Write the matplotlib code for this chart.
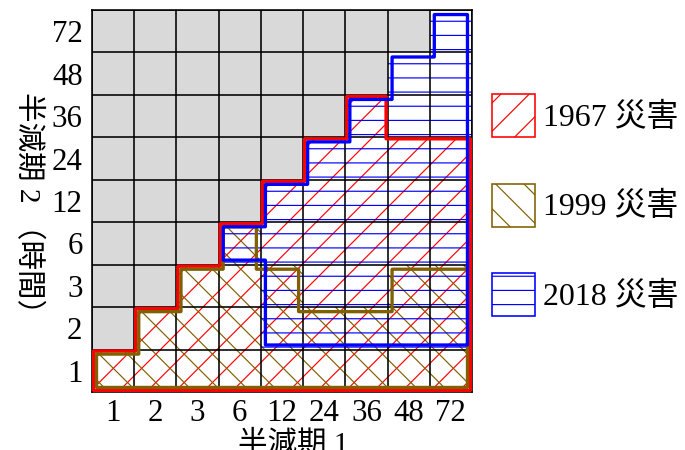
import numpy as np
import matplotlib
matplotlib.use('Agg')
import matplotlib.pyplot as plt
from matplotlib.patches import Rectangle, Patch
from numpy.lib.stride_tricks import sliding_window_view

plt.rcParams['font.family'] = ['Liberation Serif', 'Noto Sans CJK JP']
plt.rcParams['hatch.linewidth'] = 1.0

DPI = 85

# tick labels (hours)
half_life_1 = ['1', '2', '3', '6', '12', '24', '36', '48', '72']
half_life_2 = ['1', '2', '3', '6', '12', '24', '36', '48', '72']

# for each row of half_life_2 (bottom first): columns of half_life_1 in the area
area_1967 = [
    [0, 1, 2, 3, 4, 5, 6, 7, 8],
    [1, 2, 3, 4, 5, 6, 7, 8],
    [2, 3, 4, 5, 6, 7, 8],
    [3, 4, 5, 6, 7, 8],
    [4, 5, 6, 7, 8],
    [5, 6, 7, 8],
    [6],
    [],
    [],
]
area_1999 = [
    [0, 1, 2, 3, 4, 5, 6, 7, 8],
    [1, 2, 3, 4, 5, 6, 7, 8],
    [2, 3, 4, 7, 8],
    [3],
    [],
    [],
    [],
    [],
    [],
]
area_2018 = [
    [],
    [4, 5, 6, 7, 8],
    [4, 5, 6, 7, 8],
    [3, 4, 5, 6, 7, 8],
    [4, 5, 6, 7, 8],
    [5, 6, 7, 8],
    [6, 7, 8],
    [7, 8],
    [8],
]

labels = ['1967 災害', '1999 災害', '2018 災害']
areas = [area_1967, area_1999, area_2018]
colors = ['#ff0000', '#806000', '#0000ff']
hatches = ['/', '\\', '-']
insets = [1.5, 4.5, 4.5]   # px inside the area edge

n = len(half_life_1)
px = 72 / DPI  # points per pixel


def to_mask(area):
    m = np.zeros((n, n), bool)
    for j, cols in enumerate(area):
        m[j, cols] = True
    return m


SUB = 84


def outline(ax, mask, inset_px, color, lw, z):
    # erode a fine copy of the mask, then contour it -> inset outline
    cell_px = 382 / n
    k = int(round(inset_px / cell_px * SUB))
    big = np.kron(mask, np.ones((SUB, SUB), bool))
    big = np.pad(big, k + 1)
    big = sliding_window_view(big, 2 * k + 1, axis=0).min(axis=-1)
    big = sliding_window_view(big, 2 * k + 1, axis=1).min(axis=-1)
    coords = (np.arange(-1, n * SUB + 1) + 0.5) / SUB
    ax.contour(coords, coords, big.astype(float), levels=[0.5],
               colors=[color], linewidths=lw, zorder=z)


fig = plt.figure(figsize=(685 / DPI, 450 / DPI), dpi=DPI)
ax = fig.add_axes([92 / 685, 1 - 392 / 450, 380 / 685, 382 / 450])
ax.set_xlim(0, n)
ax.set_ylim(0, n)

# cells where half-life 2 > half-life 1 are greyed out
for j in range(n):
    for i in range(n):
        if j > i:
            ax.add_patch(Rectangle((i, j), 1, 1, facecolor='#d9d9d9',
                                   edgecolor='none', zorder=1))

for area, c, h in zip(areas, colors, hatches):
    for j, cols in enumerate(area):
        for i in cols:
            ax.add_patch(Rectangle((i, j), 1, 1, fill=False, edgecolor=c,
                                   hatch=h, lw=0, zorder=2))

# grid
ax.vlines(np.arange(n + 1), 0, n, color='black', lw=1.6 * px, zorder=3)
ax.hlines(np.arange(n + 1), 0, n, color='black', lw=1.6 * px, zorder=3)

for k, (area, c, ins) in enumerate(zip(areas, colors, insets)):
    outline(ax, to_mask(area), ins, c, 3.3 * px, 4 + k)

ax.set_xticks(np.arange(n) + 0.5)
ax.set_xticklabels(half_life_1)
ax.set_yticks(np.arange(n) + 0.5)
ax.set_yticklabels(half_life_2)
ax.tick_params(length=0, labelsize=26, pad=6)
ax.tick_params(axis='y', pad=8)
for s in ax.spines.values():
    s.set_linewidth(1.6 * px)
    s.set_zorder(3)

fig.text(293 / 685, 1 - 430 / 450, '半減期 1', ha='center', va='top', fontsize=25)
fig.text(28 / 685, 1 - 210 / 450, '半減期 2 （時間）', ha='center', va='center',
         rotation=-90, fontsize=25)

handles = [Patch(facecolor='white', edgecolor=c, hatch=h, lw=1.6 * px)
           for c, h in zip(colors, hatches)]
fig.legend(handles, labels, loc='upper left',
           bbox_to_anchor=(492 / 685, 1 - 94 / 450), frameon=False,
           borderpad=0, borderaxespad=0, handlelength=1.35, handleheight=1.7,
           handletextpad=0.25, labelspacing=1.46, fontsize=27)

fig.savefig('out.png', dpi=DPI)
